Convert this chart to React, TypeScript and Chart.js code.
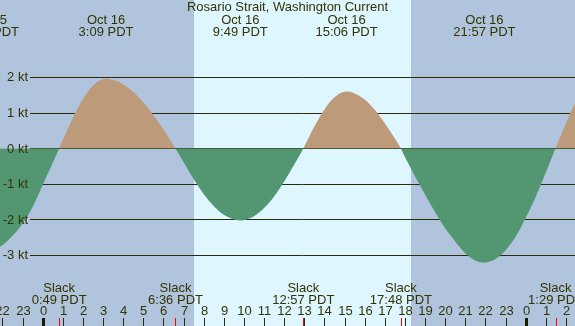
import { useEffect, useRef } from "react";
import { Chart, registerables } from "chart.js";

Chart.register(...registerables);

// Current speed readings (hours from Oct 16 00:00 PDT, knots)
const curveHours = [-2.72, -2.12, -1.5, -1.0, -0.5, 0, 0.82, 1.0, 1.5, 2.0, 2.5, 3.15, 3.5, 4.0, 4.5, 5.0, 5.5, 6.0, 6.6, 7.0, 7.5, 8.0, 8.5, 9.0, 9.82, 10.5, 11.0, 11.5, 12.0, 12.5, 12.95, 13.5, 14.0, 14.5, 15.1, 15.5, 16.0, 16.5, 17.0, 17.5, 17.8, 18.0, 18.5, 19.0, 19.5, 20.0, 20.5, 21.0, 21.5, 21.95, 22.5, 23.0, 23.5, 24.0, 24.5, 25.0, 25.48, 26.0, 26.45, 27.0];
const curveKnots = [-2.85, -2.77, -2.46, -2.12, -1.65, -1.03, 0, 0.24, 0.86, 1.39, 1.77, 1.96, 1.93, 1.81, 1.59, 1.3, 0.94, 0.53, 0, -0.39, -0.86, -1.28, -1.62, -1.87, -2.03, -1.91, -1.68, -1.35, -0.93, -0.45, 0, 0.62, 1.1, 1.44, 1.6, 1.55, 1.38, 1.09, 0.71, 0.28, 0, -0.24, -0.78, -1.3, -1.8, -2.25, -2.62, -2.95, -3.16, -3.21, -3.11, -2.87, -2.48, -1.96, -1.36, -0.68, 0, 0.71, 1.27, 1.8];

const yTickValues = [2, 1, 0, -1, -2, -3];
const yTickLabels = ["2 kt", "1 kt", "0 kt", "-1 kt", "-2 kt", "-3 kt"];

const hourTicks = [-2, -1, 0, 1, 2, 3, 4, 5, 6, 7, 8, 9, 10, 11, 12, 13, 14, 15, 16, 17, 18, 19, 20, 21, 22, 23, 24, 25, 26];
const hourLabels = ["22", "23", "0", "1", "2", "3", "4", "5", "6", "7", "8", "9", "10", "11", "12", "13", "14", "15", "16", "17", "18", "19", "20", "21", "22", "23", "0", "1", "2"];
const midnightHours = [0, 24];

const maxHours = [-2.72, 3.15, 9.82, 15.1, 21.95];
const maxDates = ["Oct 15", "Oct 16", "Oct 16", "Oct 16", "Oct 16"];
const maxTimes = ["21:17 PDT", "3:09 PDT", "9:49 PDT", "15:06 PDT", "21:57 PDT"];

const slackHours = [0.817, 6.6, 12.95, 17.8, 25.483];
const slackTimes = ["0:49 PDT", "6:36 PDT", "12:57 PDT", "17:48 PDT", "1:29 PDT"];

const dayStarts = [7.52];
const dayEnds = [18.3];

const title = "Rosario Strait, Washington Current";

const X_MIN = -2.12;
const X_MAX = 26.45;
const Y_MIN = -5.0;
const Y_MAX = 4.18;

const NIGHT = "#b0c4de";
const DAY = "#def6ff";
const FLOOD = "#bd9a7a";
const EBB = "#529672";
const TEXT = "#333300";
const LINE = "#2b2b08";
const FONT = '13px "Liberation Sans", Arial, sans-serif';

const tidePlugin = {
  id: "tideDecor",
  beforeDatasetsDraw(chart: any) {
    const { ctx, chartArea, scales } = chart;
    const xs = scales.x;
    const ys = scales.y;
    ctx.save();
    ctx.fillStyle = NIGHT;
    ctx.fillRect(chartArea.left, chartArea.top, chartArea.right - chartArea.left, chartArea.bottom - chartArea.top);
    ctx.fillStyle = DAY;
    dayStarts.forEach((s, i) => {
      const x0 = Math.round(xs.getPixelForValue(s));
      const x1 = Math.round(xs.getPixelForValue(dayEnds[i]));
      ctx.fillRect(x0, chartArea.top, x1 - x0, chartArea.bottom - chartArea.top);
    });
    ctx.strokeStyle = LINE;
    ctx.lineWidth = 1;
    yTickValues.forEach((v) => {
      const py = Math.round(ys.getPixelForValue(v)) + 0.5;
      ctx.beginPath();
      ctx.moveTo(30, py);
      ctx.lineTo(chartArea.right, py);
      ctx.stroke();
    });
    ctx.restore();
  },
  afterDatasetsDraw(chart: any) {
    const { ctx, chartArea, scales } = chart;
    const xs = scales.x;
    const ys = scales.y;
    ctx.save();
    ctx.fillStyle = TEXT;
    ctx.font = FONT;
    ctx.textAlign = "right";
    ctx.textBaseline = "middle";
    yTickValues.forEach((v, i) => {
      ctx.fillText(yTickLabels[i], 28, ys.getPixelForValue(v) + 0.5);
    });
    ctx.textAlign = "center";
    ctx.textBaseline = "alphabetic";
    ctx.fillText(title, 287.5, 11);
    maxHours.forEach((h, i) => {
      const px = xs.getPixelForValue(h);
      ctx.fillText(maxDates[i], px, 24);
      ctx.fillText(maxTimes[i], px, 36);
    });
    slackHours.forEach((h, i) => {
      const px = xs.getPixelForValue(h);
      ctx.fillText("Slack", px, 292);
      ctx.fillText(slackTimes[i], px, 304);
    });
    hourTicks.forEach((h, i) => {
      const px = Math.round(xs.getPixelForValue(h));
      ctx.fillText(hourLabels[i], px + 0.5, 315);
      ctx.fillStyle = LINE;
      ctx.fillRect(px, 318, 1, chartArea.bottom - 318);
      ctx.fillStyle = TEXT;
    });
    ctx.fillStyle = "#1a1a00";
    midnightHours.forEach((h) => {
      const px = Math.round(xs.getPixelForValue(h));
      ctx.fillRect(px - 1, 318, 3, chartArea.bottom - 318);
    });
    ctx.fillStyle = "#ff0000";
    slackHours.forEach((h) => {
      const px = Math.round(xs.getPixelForValue(h));
      ctx.fillRect(px, 318, 1, chartArea.bottom - 318);
    });
    ctx.restore();
  },
};

export default function App() {
  const canvasRef = useRef<HTMLCanvasElement | null>(null);

  useEffect(() => {
    document.body.style.margin = "0";
    const canvas = canvasRef.current;
    if (!canvas) return;
    const chart = new Chart(canvas, {
      type: "line",
      data: {
        datasets: [
          {
            data: curveHours.map((h, i) => ({ x: h, y: curveKnots[i] })),
            borderColor: "rgba(0,0,0,0)",
            borderWidth: 0,
            pointRadius: 0,
            cubicInterpolationMode: "monotone",
            fill: { target: { value: 0 }, above: FLOOD, below: EBB },
          } as any,
        ],
      },
      options: {
        animation: false,
        responsive: false,
        devicePixelRatio: 1,
        layout: { padding: 0 },
        events: [],
        scales: {
          x: { type: "linear", min: X_MIN, max: X_MAX, display: false },
          y: { type: "linear", min: Y_MIN, max: Y_MAX, display: false },
        },
        plugins: {
          legend: { display: false },
          tooltip: { enabled: false },
          title: { display: false },
        },
      },
      plugins: [tidePlugin],
    });
    return () => chart.destroy();
  }, []);

  return (
    <div style={{ width: 575, height: 326 }}>
      <canvas ref={canvasRef} width={575} height={326} style={{ display: "block" }} />
    </div>
  );
}
